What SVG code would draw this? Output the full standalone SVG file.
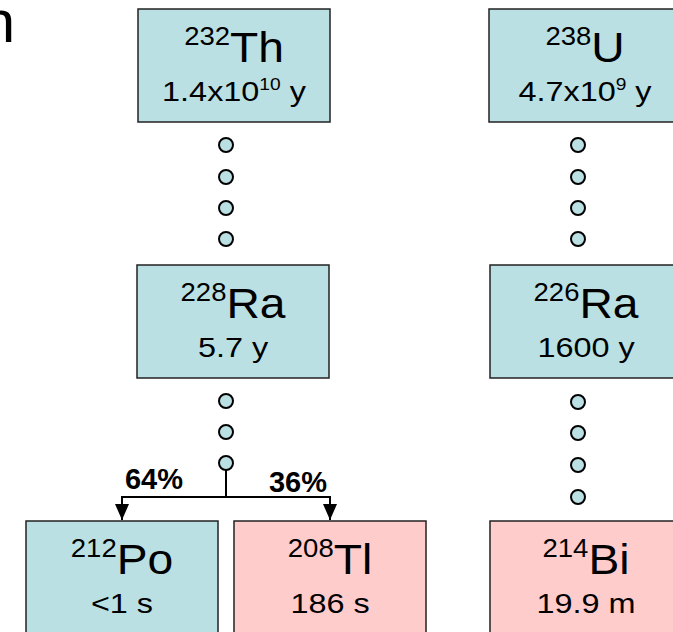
<svg xmlns="http://www.w3.org/2000/svg" width="673" height="632" viewBox="0 0 673 632">
<style>
text{font-family:"Liberation Sans",Arial,sans-serif;fill:#000}
.blue{fill:#bbe0e3;stroke:#222;stroke-width:1.5}
.pink{fill:#ffcccc;stroke:#222;stroke-width:1.5}
.dot{fill:#bbe0e3;stroke:#000;stroke-width:2}
.sym{font-size:42px}
.sup{font-size:25px}
.hl{font-size:27px}
.hsup{font-size:16px}
.pct{font-size:29px;font-weight:bold}
.conn{stroke:#000;stroke-width:2;fill:none}
</style>
<defs>
<marker id="ah" markerWidth="16" markerHeight="14" refX="16" refY="7" orient="auto" markerUnits="userSpaceOnUse" viewBox="0 0 16 14">
<path d="M0,0 L16,7 L0,14 Z" fill="#000"/>
</marker>
</defs>
<rect width="673" height="632" fill="#fff"/>
<text x="15" y="42" text-anchor="end" style="font-size:60px">n</text>

<g id="th232">
<rect class="blue" x="138" y="9" width="192" height="113"/>
<text transform="translate(234,0) scale(1.1,1)" x="0" y="62" text-anchor="middle"><tspan class="sup" dy="-17">232</tspan><tspan class="sym" dy="17">Th</tspan></text>
<text transform="translate(234,0) scale(1.2,1)" x="0" y="101" text-anchor="middle" class="hl">1.4x10<tspan class="hsup" dy="-11">10</tspan><tspan dy="11"> y</tspan></text>
</g>
<g id="u238">
<rect class="blue" x="489" y="9" width="192" height="113"/>
<text transform="translate(585,0) scale(1.1,1)" x="0" y="62" text-anchor="middle"><tspan class="sup" dy="-17">238</tspan><tspan class="sym" dy="17">U</tspan></text>
<text transform="translate(585,0) scale(1.2,1)" x="0" y="101" text-anchor="middle" class="hl">4.7x10<tspan class="hsup" dy="-11">9</tspan><tspan dy="11"> y</tspan></text>
</g>
<g id="ra228">
<rect class="blue" x="137" y="265" width="192" height="113"/>
<text transform="translate(233,0) scale(1.1,1)" x="0" y="318" text-anchor="middle"><tspan class="sup" dy="-17">228</tspan><tspan class="sym" dy="17">Ra</tspan></text>
<text transform="translate(233,0) scale(1.2,1)" x="0" y="357" text-anchor="middle" class="hl">5.7 y</text>
</g>
<g id="ra226">
<rect class="blue" x="490" y="265" width="192" height="113"/>
<text transform="translate(586,0) scale(1.1,1)" x="0" y="318" text-anchor="middle"><tspan class="sup" dy="-17">226</tspan><tspan class="sym" dy="17">Ra</tspan></text>
<text transform="translate(586,0) scale(1.2,1)" x="0" y="357" text-anchor="middle" class="hl">1600 y</text>
</g>
<g id="po212">
<rect class="blue" x="26" y="521" width="192" height="120"/>
<text transform="translate(122,0) scale(1.1,1)" x="0" y="574" text-anchor="middle"><tspan class="sup" dy="-17">212</tspan><tspan class="sym" dy="17">Po</tspan></text>
<text transform="translate(122,0) scale(1.2,1)" x="0" y="613" text-anchor="middle" class="hl">&lt;1 s</text>
</g>
<g id="tl208">
<rect class="pink" x="234" y="521" width="192" height="120"/>
<text transform="translate(330,0) scale(1.1,1)" x="0" y="574" text-anchor="middle"><tspan class="sup" dy="-17">208</tspan><tspan class="sym" dy="17">Tl</tspan></text>
<text transform="translate(330,0) scale(1.2,1)" x="0" y="613" text-anchor="middle" class="hl">186 s</text>
</g>
<g id="bi214">
<rect class="pink" x="490" y="521" width="192" height="120"/>
<text transform="translate(586,0) scale(1.1,1)" x="0" y="574" text-anchor="middle"><tspan class="sup" dy="-17">214</tspan><tspan class="sym" dy="17">Bi</tspan></text>
<text transform="translate(586,0) scale(1.2,1)" x="0" y="613" text-anchor="middle" class="hl">19.9 m</text>
</g>

<g id="connectors">
<g id="dots-th">
<circle class="dot" cx="226" cy="145" r="7"/>
<circle class="dot" cx="226" cy="177" r="7"/>
<circle class="dot" cx="226" cy="208" r="7"/>
<circle class="dot" cx="226" cy="239" r="7"/>
</g>
<g id="dots-u">
<circle class="dot" cx="578" cy="145" r="7"/>
<circle class="dot" cx="578" cy="177" r="7"/>
<circle class="dot" cx="578" cy="208" r="7"/>
<circle class="dot" cx="578" cy="239" r="7"/>
</g>
<g id="dots-ra228">
<circle class="dot" cx="226" cy="401" r="7"/>
<circle class="dot" cx="226" cy="432" r="7"/>
<circle class="dot" cx="226" cy="463" r="7"/>
</g>
<g id="dots-ra226">
<circle class="dot" cx="578" cy="402" r="7"/>
<circle class="dot" cx="578" cy="433" r="7"/>
<circle class="dot" cx="578" cy="465" r="7"/>
<circle class="dot" cx="578" cy="497" r="7"/>
</g>
<path class="conn" d="M226,470 V497 M122,497 H330"/>
<path class="conn" d="M122,496 V520" marker-end="url(#ah)"/>
<path class="conn" d="M330,496 V520" marker-end="url(#ah)"/>
<text x="154" y="489" text-anchor="middle" class="pct">64%</text>
<text x="298" y="492" text-anchor="middle" class="pct">36%</text>
</g>
</svg>
